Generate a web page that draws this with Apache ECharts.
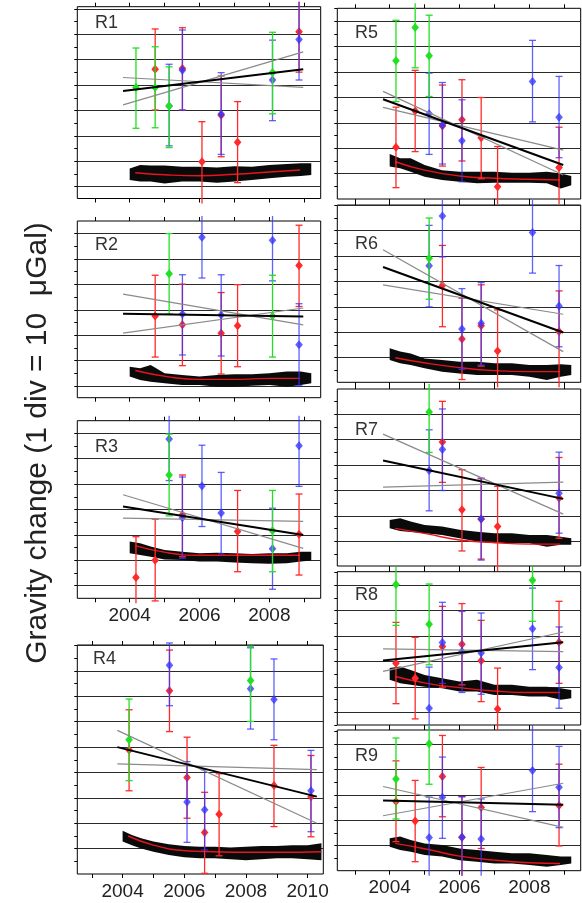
<!DOCTYPE html>
<html lang="en">
<head>
    <meta charset="UTF-8">
    <title>Gravity change R1-R9</title>
    <script src="https://cdn.jsdelivr.net/npm/echarts@6/dist/echarts.min.js"></script>
    <style>
        html, body {
            margin: 0;
            padding: 0;
            background: #fff;
        }

        #main {
            width: 582px;
            height: 903px;
        }
    </style>
</head>
<body>
<div id="main"></div>
<script type="application/javascript">
    // error bars: [year, value, upper, lower]  (uGal, 10 per grid line, 0 = lowest grid line of the panel)
    // trend lines: [[year, value], [year, value]]
    var bandYears = [2004.0, 2004.3, 2004.6, 2005.0, 2005.5, 2006.0, 2006.5, 2007.0, 2007.5, 2008.0, 2008.5, 2008.9, 2009.2];
    var bandYearsR4 = [2004.0, 2004.3, 2004.6, 2005.0, 2005.5, 2006.0, 2006.5, 2007.0, 2007.5, 2008.0, 2008.5, 2009.0, 2009.5, 2010.0, 2010.45];
    var yearTicks = [2003, 2004, 2005, 2006, 2007, 2008, 2009];
    var yearTicksR4 = [2003, 2004, 2005, 2006, 2007, 2008, 2009, 2010];
    var yearLabels = [2004, 2006, 2008];
    var yearLabelsR4 = [2004, 2006, 2008, 2010];

    // R1
    var r1Red = [[2004.73, 46.2, 62.1, 30.2], [2005.51, 46.5, 62.6, 30.2], [2006.07, 9.8, 25.6, -7.9], [2006.62, 28.1, 43.6, 11.8], [2007.09, 17.5, 33.5, 1.6], [2008.85, 61.0, 77.0, 45.1]];
    var r1Blue = [[2005.13, 31.8, 48.2, 16.1], [2005.51, 45.8, 61.7, 30.1], [2006.62, 28.6, 44.9, 12.7], [2008.09, 42.0, 57.7, 26.0], [2008.85, 58.0, 74.0, 42.0]];
    var r1Green = [[2004.18, 39.1, 54.6, 23.0], [2004.73, 39.1, 55.1, 23.2], [2005.13, 31.8, 47.2, 15.4], [2008.09, 45.0, 60.8, 28.7]];
    var r1Black = [[2003.81, 37.7], [2008.97, 46.2]];
    var r1GrayA = [[2003.81, 32.2], [2008.97, 53.1]];
    var r1GrayB = [[2003.81, 43.0], [2008.97, 39.1]];
    var r1Hi = [7.2, 8.5, 8.3, 8.3, 7.9, 7.9, 7.6, 8.1, 7.9, 8.5, 8.9, 9.2, 9.2];
    var r1Lo = [2.6, 2.0, 2.0, 1.3, 2.0, 2.0, 1.6, 2.0, 2.6, 3.3, 3.9, 4.2, 4.6];
    var r1Curve = [[2004.16, 5.5], [2005.0, 4.7], [2006.0, 4.3], [2007.0, 4.9], [2008.0, 5.8], [2008.88, 6.6]];

    // R2
    var r2Red = [[2004.73, 27.6, 43.6, 11.4], [2005.51, 24.1, 40.1, 8.0], [2006.62, 20.8, 36.8, 4.7], [2007.09, 23.7, 39.9, 7.6], [2008.85, 47.4, 63.3, 31.3]];
    var r2Blue = [[2005.51, 28.3, 43.8, 12.2], [2006.07, 58.6, 72.0, 42.5], [2006.62, 28.0, 43.8, 11.8], [2008.09, 57.4, 73.0, 41.4], [2008.85, 16.2, 32.4, 0.1]];
    var r2Green = [[2005.13, 44.2, 60.0, 28.4], [2008.09, 27.6, 43.6, 11.4]];
    var r2Black = [[2003.81, 28.4], [2008.97, 27.4]];
    var r2GrayA = [[2003.81, 36.2], [2008.97, 24.1]];
    var r2GrayB = [[2003.81, 20.8], [2008.97, 30.7]];
    var r2Hi = [7.6, 7.0, 8.3, 5.0, 4.3, 3.7, 4.3, 4.6, 4.6, 5.0, 5.7, 5.7, 5.0];
    var r2Lo = [3.7, 2.4, 1.7, 1.1, 0.4, 0.4, -0.3, -0.3, 0.1, 0.4, -0.3, 0.4, 1.1];
    var r2Curve = [[2004.16, 6.1], [2005.07, 3.7], [2006.0, 2.6], [2007.0, 2.6], [2008.0, 3.0], [2008.88, 3.0]];

    // R3
    var r3Red = [[2004.18, 3.2, 19.3, -12], [2004.73, 10.0, 26.2, -6], [2005.51, 27.9, 43.6, 11.4], [2007.09, 21.3, 37.5, 5.5], [2008.85, 20.3, 36.1, 4.2]];
    var r3Blue = [[2005.13, 57.8, 70, 41.4], [2005.51, 26.8, 42.8, 10.8], [2006.07, 39.3, 55.3, 23.3], [2006.62, 28.6, 44.6, 12.5], [2008.09, 14.5, 30.5, -1.4], [2008.85, 55.1, 70, 39.1]];
    var r3Green = [[2005.13, 43.6, 59.7, 27.5], [2008.09, 21.6, 37.5, 5.5]];
    var r3Black = [[2003.81, 31.2], [2008.97, 20.0]];
    var r3GrayA = [[2003.81, 35.8], [2008.97, 14.7]];
    var r3GrayB = [[2003.81, 26.6], [2008.97, 25.3]];
    var r3Hi = [17.4, 16.7, 15.4, 14.1, 13.4, 12.8, 13.0, 12.8, 12.5, 12.8, 12.8, 13.4, 13.4];
    var r3Lo = [12.8, 12.1, 11.4, 10.3, 10.1, 9.5, 9.5, 9.1, 8.8, 8.6, 8.8, 9.5, 9.9];
    var r3Curve = [[2004.16, 15.8], [2005.07, 13.0], [2006.0, 12.0], [2007.0, 12.0], [2008.0, 12.0], [2008.88, 12.0]];

    // R4
    var r4Red = [[2004.21, 38.9, 54.7, 22.8], [2005.52, 62.2, 78.2, 46.1], [2006.09, 28.0, 43.9, 12.0], [2006.66, 6.4, 22.2, -9.7], [2007.13, 13.6, 29.5, -2.8], [2008.91, 24.9, 40.7, 8.7], [2010.11, 20.5, 36.7, 4.7]];
    var r4Blue = [[2005.52, 72.2, 81, 56.3], [2006.09, 18.4, 34.3, 2.5], [2006.66, 15.3, 31.1, -0.5], [2008.15, 63.0, 79.1, 47.1], [2008.91, 58.7, 74.7, 42.9], [2010.11, 22.8, 38.7, 6.7]];
    var r4Green = [[2004.21, 42.9, 58.9, 26.8], [2008.15, 66.2, 79.7, 50.1]];
    var r4Black = [[2003.83, 40.0], [2010.3, 20.5]];
    var r4GrayA = [[2003.83, 46.6], [2010.3, 10.0]];
    var r4GrayB = [[2003.83, 33.4], [2010.3, 31.1]];
    var r4Hi = [7.1, 5.4, 4.1, 2.8, 1.8, 1.1, 0.8, 0.8, 0.5, 0.8, 1.1, 1.1, 1.4, 1.4, 2.1];
    var r4Lo = [2.8, 1.4, 0.1, -1.2, -2.5, -3.4, -3.8, -3.8, -4.2, -4.5, -4.2, -3.8, -3.8, -4.2, -4.5];
    var r4Curve = [[2004.18, 5.0], [2005.0, 1.4], [2006.03, -0.8], [2007.0, -1.2], [2008.0, -1.4], [2009.0, -1.4], [2010.45, -1.2]];

    // R5
    var r5Red = [[2004.18, 10.4, 26.2, -5.5], [2004.73, 24.7, 40.7, 8.7], [2005.51, 18.8, 34.9, 3.0], [2006.07, 21.2, 37.0, 5.0], [2006.62, 14.2, 30.0, -2.0], [2007.09, -5.1, 10.7, -21], [2008.85, 2.4, 18.3, -13.6]];
    var r5Blue = [[2005.13, 23.6, 39.6, 7.6], [2005.51, 19.2, 35.9, 3.8], [2006.07, 13.0, 29.1, -3.2], [2008.09, 36.3, 52.5, 20.4], [2008.85, 22.2, 38.3, 6.3]];
    var r5Green = [[2004.18, 44.5, 60.4, 28.4], [2004.73, 57.6, 72, 41.7], [2005.13, 46.4, 62.4, 30.4]];
    var r5Black = [[2003.81, 29.3], [2008.97, 3.4]];
    var r5GrayA = [[2003.81, 32.4], [2008.97, -0.5]];
    var r5GrayB = [[2003.81, 26.1], [2008.97, 9.3]];
    var r5Hi = [7.8, 6.1, 6.1, 3.4, 1.4, 0.8, 0.8, 0.8, 0.4, 0.4, 0.8, 0.1, -0.9];
    var r5Lo = [2.8, 2.1, 0.8, -1.2, -2.5, -3.2, -3.8, -3.6, -3.6, -3.6, -3.8, -5.8, -4.5];
    var r5Curve = [[2004.16, 4.7], [2005.0, 1.4], [2006.0, -0.9], [2007.0, -1.8], [2008.0, -2.2], [2008.88, -2.5]];

    // R6
    var r6Red = [[2005.51, 28.4, 44.2, 12.2], [2006.07, 7.4, 23.4, -8.6], [2006.62, 12.6, 28.7, -3.3], [2007.09, 2.6, 18.8, -13.4], [2008.85, 10.3, 26.3, -13]];
    var r6Blue = [[2005.13, 36.2, 52.1, 20.0], [2005.51, 55.8, 72, 39.7], [2006.07, 11.3, 27.2, -4.6], [2006.62, 13.6, 29.6, -2.9], [2008.09, 49.3, 65.3, 33.3], [2008.85, 20.4, 36.3, 4.3]];
    var r6Green = [[2005.13, 39.2, 55.0, 23.0]];
    var r6Black = [[2003.81, 35.7], [2008.97, 9.9]];
    var r6GrayA = [[2003.81, 42.5], [2008.97, 2.4]];
    var r6GrayB = [[2003.81, 28.7], [2008.97, 17.1]];
    var r6Hi = [3.7, 2.4, 1.7, -0.3, -0.9, -1.6, -1.6, -2.2, -2.2, -2.9, -2.9, -2.6, -2.9];
    var r6Lo = [-0.9, -2.2, -2.9, -4.2, -5.5, -6.2, -6.8, -6.8, -6.8, -7.5, -8.8, -7.5, -6.8];
    var r6Curve = [[2004.16, 0.0], [2005.07, -2.2], [2006.0, -3.9], [2007.0, -5.1], [2008.0, -5.5], [2008.88, -5.5]];

    // R7
    var r7Red = [[2005.51, 39.1, 55.1, 23.2], [2006.07, 12.4, 28.2, -3.8], [2006.62, 8.8, 24.6, -7.0], [2007.09, 5.8, 21.6, -12.6], [2008.85, 17.0, 33.0, 1.2]];
    var r7Blue = [[2005.13, 27.9, 43.9, 12.0], [2005.51, 36.1, 52.1, 20.0], [2006.62, 8.8, 24.9, -7.4], [2008.85, 18.9, 35.1, 3.2]];
    var r7Green = [[2005.13, 50.9, 66, 35.0]];
    var r7Black = [[2003.81, 31.8], [2008.97, 16.7]];
    var r7GrayA = [[2003.81, 42.2], [2008.97, 10.7]];
    var r7GrayB = [[2003.81, 21.3], [2008.97, 23.3]];
    var r7Hi = [8.4, 9.1, 7.8, 6.4, 5.8, 4.5, 3.8, 3.2, 3.2, 2.5, 2.5, 1.8, 1.2];
    var r7Lo = [5.1, 4.1, 3.7, 3.2, 2.5, 1.2, -0.1, -0.8, -0.8, -0.8, -2.1, -1.4, -1.4];
    var r7Curve = [[2004.16, 5.1], [2005.07, 2.9], [2006.0, 0.5], [2007.0, -0.5], [2008.0, -1.1], [2008.88, -1.1]];

    // R8
    var r8Red = [[2004.18, 19.3, 35.4, 3.4], [2004.73, 13.4, 29.5, -2.6], [2005.51, 25.9, 41.7, 9.9], [2006.07, 26.8, 42.8, 10.8], [2006.62, 20.3, 36.2, 4.2], [2007.09, 1.3, 17.4, -14.9], [2008.85, 27.6, 43.7, 11.4]];
    var r8Blue = [[2005.13, 1.6, 17.8, -14], [2005.51, 27.5, 43.3, 11.4], [2006.07, 23.9, 39.7, 7.8], [2006.62, 23.3, 39.1, 7.1], [2008.09, 32.9, 48.9, 16.8], [2008.85, 17.6, 33.6, 1.6]];
    var r8Green = [[2004.18, 50.3, 66, 34.2], [2005.13, 34.7, 50.5, 18.7], [2008.09, 52.0, 68, 35.8]];
    var r8Black = [[2003.81, 20.4], [2008.97, 27.6]];
    var r8GrayA = [[2003.81, 16.1], [2008.97, 31.6]];
    var r8GrayB = [[2003.81, 25.0], [2008.97, 23.9]];
    var r8Hi = [17.4, 18.0, 16.7, 14.7, 13.4, 12.1, 12.8, 10.8, 10.8, 10.1, 10.1, 9.5, 8.8];
    var r8Lo = [12.8, 11.4, 10.8, 10.1, 9.5, 8.2, 8.2, 6.8, 6.8, 6.2, 6.2, 4.9, 5.5];
    var r8Curve = [[2004.16, 14.1], [2005.07, 11.4], [2006.0, 9.7], [2007.0, 8.4], [2008.0, 7.8], [2008.88, 7.8]];

    // R9
    var r9Red = [[2004.18, 17.4, 33.4, 1.6], [2004.73, 9.7, 25.7, -6.3], [2005.51, 27.2, 43.4, 11.4], [2006.07, 3.3, 19.3, -12], [2006.62, 15.0, 30.8, -1.1], [2008.85, 15.8, 32.1, -0.1]];
    var r9Blue = [[2005.13, 3.2, 19.1, -12], [2005.51, 19.1, 34.9, 2.9], [2006.07, 3.3, 19.3, -12], [2006.62, 2.6, 18.4, -12], [2008.09, 29.6, 48, 13.4], [2008.85, 23.0, 39.1, 7.1]];
    var r9Green = [[2004.18, 26.3, 42.4, 10.5], [2005.13, 40.1, 55, 24.2]];
    var r9Black = [[2003.81, 17.8], [2008.97, 16.1]];
    var r9GrayA = [[2003.81, 23.3], [2008.97, 7.2]];
    var r9GrayB = [[2003.81, 11.8], [2008.97, 24.6]];
    var r9Hi = [2.9, 3.6, 2.2, 0.9, 0.3, -1.1, -1.7, -2.4, -3.0, -3.0, -3.7, -4.3, -4.3];
    var r9Lo = [-0.4, -1.7, -2.4, -3.7, -4.3, -5.7, -6.3, -7.0, -7.0, -7.6, -8.3, -7.6, -7.0];
    var r9Curve = [[2004.16, 0.9], [2005.07, -1.4], [2006.0, -4.1], [2007.0, -5.7], [2008.0, -6.7], [2008.88, -7.0]];

    // panel frames in px: [left, top, width, height], g0 = px row of the 0 grid line
    var panels = [
        {name: 'R1', red: r1Red, blue: r1Blue, green: r1Green, black: r1Black, grayA: r1GrayA, grayB: r1GrayB, bandX: bandYears, hi: r1Hi, lo: r1Lo, curve: r1Curve,
            box: [77.3, 6.7, 243.4, 191.8], g0: 186.7, xr: [2002.5, 2009.47], ticks: yearTicks, labels: null, tag: [95, 23]},
        {name: 'R2', red: r2Red, blue: r2Blue, green: r2Green, black: r2Black, grayA: r2GrayA, grayB: r2GrayB, bandX: bandYears, hi: r2Hi, lo: r2Lo, curve: r2Curve,
            box: [77.3, 221, 243.4, 176.7], g0: 386, xr: [2002.5, 2009.47], ticks: yearTicks, labels: null, tag: [95, 245.5]},
        {name: 'R3', red: r3Red, blue: r3Blue, green: r3Green, black: r3Black, grayA: r3GrayA, grayB: r3GrayB, bandX: bandYears, hi: r3Hi, lo: r3Lo, curve: r3Curve,
            box: [77.3, 420.7, 243.4, 177.6], g0: 585.7, xr: [2002.5, 2009.47], ticks: yearTicks, labels: yearLabels, tag: [95, 447]},
        {name: 'R4', red: r4Red, blue: r4Blue, green: r4Green, black: r4Black, grayA: r4GrayA, grayB: r4GrayB, bandX: bandYearsR4, hi: r4Hi, lo: r4Lo, curve: r4Curve,
            box: [77.3, 645, 246, 229], g0: 848.7, xr: [2002.53, 2010.51], ticks: yearTicksR4, labels: yearLabelsR4, tag: [93, 659]},
        {name: 'R5', red: r5Red, blue: r5Blue, green: r5Green, black: r5Black, grayA: r5GrayA, grayB: r5GrayB, bandX: bandYears, hi: r5Hi, lo: r5Lo, curve: r5Curve,
            box: [337.3, 8.3, 243.4, 190.7], g0: 173.7, xr: [2002.5, 2009.47], ticks: yearTicks, labels: null, tag: [355, 33.5]},
        {name: 'R6', red: r6Red, blue: r6Blue, green: r6Green, black: r6Black, grayA: r6GrayA, grayB: r6GrayB, bandX: bandYears, hi: r6Hi, lo: r6Lo, curve: r6Curve,
            box: [337.3, 205, 243.4, 177.3], g0: 357.7, xr: [2002.5, 2009.47], ticks: yearTicks, labels: null, tag: [355, 244.5]},
        {name: 'R7', red: r7Red, blue: r7Blue, green: r7Green, black: r7Black, grayA: r7GrayA, grayB: r7GrayB, bandX: bandYears, hi: r7Hi, lo: r7Lo, curve: r7Curve,
            box: [337.3, 389, 243.4, 177], g0: 541.3, xr: [2002.5, 2009.47], ticks: yearTicks, labels: null, tag: [355, 430]},
        {name: 'R8', red: r8Red, blue: r8Blue, green: r8Green, black: r8Black, grayA: r8GrayA, grayB: r8GrayB, bandX: bandYears, hi: r8Hi, lo: r8Lo, curve: r8Curve,
            box: [337.3, 571.7, 243.4, 153.3], g0: 712.3, xr: [2002.5, 2009.47], ticks: yearTicks, labels: null, tag: [355, 595.5]},
        {name: 'R9', red: r9Red, blue: r9Blue, green: r9Green, black: r9Black, grayA: r9GrayA, grayB: r9GrayB, bandX: bandYears, hi: r9Hi, lo: r9Lo, curve: r9Curve,
            box: [337.3, 730, 243.4, 140.7], g0: 845.7, xr: [2002.5, 2009.47], ticks: yearTicks, labels: yearLabels, tag: [355, 756.5]}
    ];

    var PX_PER_DIV = 25.4;
    var FONT = '"Liberation Sans", Arial, Helvetica, sans-serif';

    // error bar with caps and a diamond, drawn through the axis scales
    function barRenderer(color, opacity) {
        return function (params, api) {
            var cs = params.coordSys;
            var yr = api.value(0);
            var c = api.coord([yr, api.value(1)]);
            var yHi = api.coord([yr, api.value(2)])[1];
            var yLo = api.coord([yr, api.value(3)])[1];
            var limTop = cs.y - 5, limBot = cs.y + cs.height + 5;
            var st = {stroke: color, lineWidth: 1.3, opacity: opacity};
            var kids = [{type: 'line', shape: {x1: c[0], y1: Math.max(yHi, limTop), x2: c[0], y2: Math.min(yLo, limBot)}, style: st}];
            if (yHi >= limTop) kids.push({type: 'line', shape: {x1: c[0] - 3.5, y1: yHi, x2: c[0] + 3.5, y2: yHi}, style: st});
            if (yLo <= limBot) kids.push({type: 'line', shape: {x1: c[0] - 3.5, y1: yLo, x2: c[0] + 3.5, y2: yLo}, style: st});
            kids.push({
                type: 'polygon',
                shape: {points: [[c[0], c[1] - 4.5], [c[0] + 3.8, c[1]], [c[0], c[1] + 4.5], [c[0] - 3.8, c[1]]]},
                style: {fill: color, opacity: opacity}
            });
            return {type: 'group', children: kids};
        };
    }

    // noisy record drawn as a band between its upper and lower envelope
    function bandRenderer(xs, hi, lo) {
        return function (params, api) {
            var pts = [];
            for (var k = 0; k < xs.length; k++) pts.push(api.coord([xs[k], hi[k]]));
            for (var j = xs.length - 1; j >= 0; j--) pts.push(api.coord([xs[j], lo[j]]));
            return {type: 'polygon', shape: {points: pts}, style: {fill: '#0a0a0a'}};
        };
    }

    var grids = [], xAxes = [], yAxes = [], series = [], graphics = [];

    panels.forEach(function (p, i) {
        var left = p.box[0], top = p.box[1], w = p.box[2], h = p.box[3];
        var ymax = (p.g0 - top) * 10 / PX_PER_DIV;
        var ymin = -(top + h - p.g0) * 10 / PX_PER_DIV;
        var t5 = [], t10 = [];
        for (var v = Math.ceil(ymin / 5) * 5; v <= ymax; v += 5) {
            t5.push(v);
            if (v % 10 === 0) t10.push(v);
        }

        grids.push({left: left, top: top, width: w, height: h, show: true, borderColor: '#000', borderWidth: 1,
            backgroundColor: 'transparent', containLabel: false, outerBoundsMode: 'none'});

        var xBase = {
            gridIndex: i, type: 'value', min: p.xr[0], max: p.xr[1], splitNumber: 7, minInterval: 1, maxInterval: 1,
            axisLine: {show: false, onZero: false}, splitLine: {show: false},
            axisTick: {show: true, inside: false, length: 4, customValues: p.ticks, lineStyle: {color: '#000', width: 1}}
        };
        xAxes.push(Object.assign({}, xBase, {
            position: 'bottom',
            axisLabel: {
                show: !!p.labels, customValues: p.labels || undefined, margin: 8, fontSize: 19, color: '#222', fontFamily: FONT,
                formatter: function (val) { return val % 2 === 0 ? String(val) : ''; }
            }
        }));
        xAxes.push(Object.assign({}, xBase, {position: 'top', axisLabel: {show: false}}));

        yAxes.push({
            gridIndex: i, type: 'value', min: ymin, max: ymax, position: 'left', minInterval: 5, maxInterval: 5,
            axisLine: {show: false, onZero: false}, axisLabel: {show: false}, splitLine: {show: false},
            axisTick: {show: true, inside: false, length: 3, customValues: t5, lineStyle: {color: '#000', width: 1}}
        });
        yAxes.push({
            gridIndex: i, type: 'value', min: ymin, max: ymax, position: 'left', minInterval: 10, maxInterval: 10,
            axisLine: {show: false, onZero: false}, axisLabel: {show: false},
            axisTick: {show: false, customValues: t10},
            splitLine: {show: true, lineStyle: {color: '#2a2a2a', width: 1}}
        });

        var xi = 2 * i, yi = 2 * i;
        series.push({
            type: 'custom', xAxisIndex: xi, yAxisIndex: yi, z: 2, silent: true,
            data: [[p.bandX[0], p.hi[0]]], renderItem: bandRenderer(p.bandX, p.hi, p.lo)
        });
        series.push({
            type: 'line', xAxisIndex: xi, yAxisIndex: yi, z: 3, data: p.curve, smooth: true, showSymbol: false,
            lineStyle: {color: '#e8141c', width: 1.4}
        });
        [['red', '#ff2a2a', 1], ['blue', '#3434ff', 0.78], ['green', '#22e022', 1]].forEach(function (c, k) {
            series.push({
                type: 'custom', xAxisIndex: xi, yAxisIndex: yi, z: 4 + k, clip: false,
                data: p[c[0]], renderItem: barRenderer(c[1], c[2])
            });
        });
        series.push({type: 'line', xAxisIndex: xi, yAxisIndex: yi, z: 8, data: p.grayA, showSymbol: false, lineStyle: {color: '#8a8a8a', width: 1.2}});
        series.push({type: 'line', xAxisIndex: xi, yAxisIndex: yi, z: 8, data: p.grayB, showSymbol: false, lineStyle: {color: '#8a8a8a', width: 1.2}});
        series.push({type: 'line', xAxisIndex: xi, yAxisIndex: yi, z: 9, data: p.black, showSymbol: false, lineStyle: {color: '#000', width: 2}});

        graphics.push({
            type: 'text', x: p.tag[0], y: p.tag[1], z: 20,
            style: {text: p.name, font: '18px ' + FONT, fill: '#333', textAlign: 'left', textVerticalAlign: 'middle'}
        });
    });

    graphics.push({
        type: 'text', x: 38, y: 443, rotation: Math.PI / 2, z: 20,
        style: {text: 'Gravity change (1 div = 10  \u03bcGal)', font: '30px ' + FONT, fill: '#222', textAlign: 'center', textVerticalAlign: 'middle'}
    });

    var myChart = echarts.init(document.getElementById('main'));
    myChart.setOption({
        animation: false,
        backgroundColor: '#fff',
        grid: grids,
        xAxis: xAxes,
        yAxis: yAxes,
        series: series,
        graphic: graphics
    });
</script>
</body>
</html>
